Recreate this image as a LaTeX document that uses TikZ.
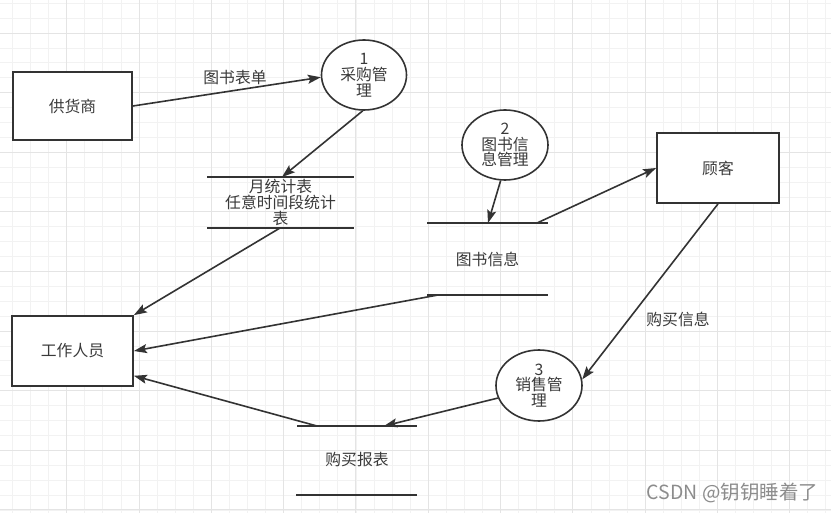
\documentclass[tikz,border=0pt]{standalone}
\usepackage{fontspec}
\setmainfont{Noto Sans CJK SC}
\usetikzlibrary{shapes.geometric,arrows.meta}
\definecolor{ink}{HTML}{333333}
\definecolor{txt}{HTML}{3A3A3A}
\definecolor{gridminor}{HTML}{F2F2F2}
\definecolor{gridmajor}{HTML}{E4E4E4}
\tikzset{
  entity/.style={draw=ink, line width=1.8pt, rectangle, inner sep=0pt, fill=white, text=txt},
  proc/.style={draw=ink, line width=1.6pt, ellipse, inner sep=0pt, fill=white, text=txt, align=center},
  storeline/.style={draw=ink, line width=1.6pt},
  flow/.style={draw=ink, line width=1.6pt, -{Stealth[length=13pt,width=9pt,inset=2.5pt]}},
  lbl/.style={text=txt, inner sep=0pt, align=center},
  wm/.style={text=black!45, inner sep=0pt},
}
\begin{document}
\begin{tikzpicture}[x=1pt,y=-1pt, font=\fontsize{15.8}{15.8}\selectfont]
\useasboundingbox (0,0) rectangle (831,513);
\fill[white] (0,0) rectangle (831,513);
% grid
\foreach \k in {0,...,45} { \draw[gridminor, line width=0.8pt] ({12.5+18.075*\k},0) -- ({12.5+18.075*\k},513); }
\foreach \k in {0,...,34} { \draw[gridminor, line width=0.8pt] (0,{3.3+14.9*\k}) -- (831,{3.3+14.9*\k}); }
\foreach \k in {0,...,10} { \draw[gridmajor, line width=0.9pt] ({66.7+72.3*\k},0) -- ({66.7+72.3*\k},513); }
\foreach \k in {0,...,8} { \draw[gridmajor, line width=0.9pt] (0,{33+59.6*\k}) -- (831,{33+59.6*\k}); }

% entities
\node[entity, minimum width=119pt, minimum height=68pt] (supplier) at (72.5,106) {供货商};
\node[entity, minimum width=121pt, minimum height=70pt] (staff) at (72.5,351) {工作人员};
\node[entity, minimum width=122pt, minimum height=70pt] (customer) at (718,168) {顾客};

% processes
\node[proc, minimum width=85pt, minimum height=70pt] (c1) at (364,75) {1\\采购管\\理};
\node[proc, minimum width=86pt, minimum height=70pt] (c2) at (505,145) {2\\图书信\\息管理};
\node[proc, minimum width=86pt, minimum height=71pt] (c3) at (539,385.5) {3\\销售管\\理};

% data stores
\coordinate (s1tl) at (207,177); \coordinate (s1tr) at (354,177);
\coordinate (s1bl) at (207,228); \coordinate (s1br) at (354,228);
\draw[storeline] (s1tl) -- (s1tr); \draw[storeline] (s1bl) -- (s1br);
\node[lbl] (s1) at (280.5,202.5) {月统计表\\任意时间段统计\\表};

\coordinate (s2tl) at (427,223); \coordinate (s2tr) at (548,223);
\coordinate (s2bl) at (427,295); \coordinate (s2br) at (548,295);
\draw[storeline] (s2tl) -- (s2tr); \draw[storeline] (s2bl) -- (s2br);
\node[lbl] (s2) at (487.5,259) {图书信息};

\coordinate (s3tl) at (297,426); \coordinate (s3tr) at (417,426);
\coordinate (s3bl) at (296,495); \coordinate (s3br) at (417,495);
\draw[storeline] (s3tl) -- (s3tr); \draw[storeline] (s3bl) -- (s3br);
\node[lbl] (s3) at (357,460) {购买报表};

% connection points on stores
\coordinate (s1in) at (282,177);
\coordinate (s1out) at (280,228);
\coordinate (s2in) at (488,223);
\coordinate (s2out) at (537,223);
\coordinate (s2out2) at (438,295);
\coordinate (s3in) at (384,426);
\coordinate (s3out) at (317,426);

% flows
\draw[flow] (supplier.east) -- (c1.183);
\draw[flow] (c1.-92) -- (s1in);
\draw[flow] (s1out) -- (staff.north east);
\draw[flow] (c2.-97) -- (s2in);
\draw[flow] (s2out) -- (customer.west);
\draw[flow] (s2out2) -- (staff.east);
\draw[flow] (customer.south) -- (c3.8);
\draw[flow] (c3.197) -- (s3in);
\draw[flow] (s3out) -- (staff.-22);

% labels
\node[lbl] (l1) at (235,77) {图书表单};
\node[lbl] (l2) at (678,319) {购买信息};

% watermark
\node[wm, font=\fontsize{19.5}{20}\selectfont] (wmk) at (732.5,493) {CSDN @钥钥睡着了};
\end{tikzpicture}
\end{document}
